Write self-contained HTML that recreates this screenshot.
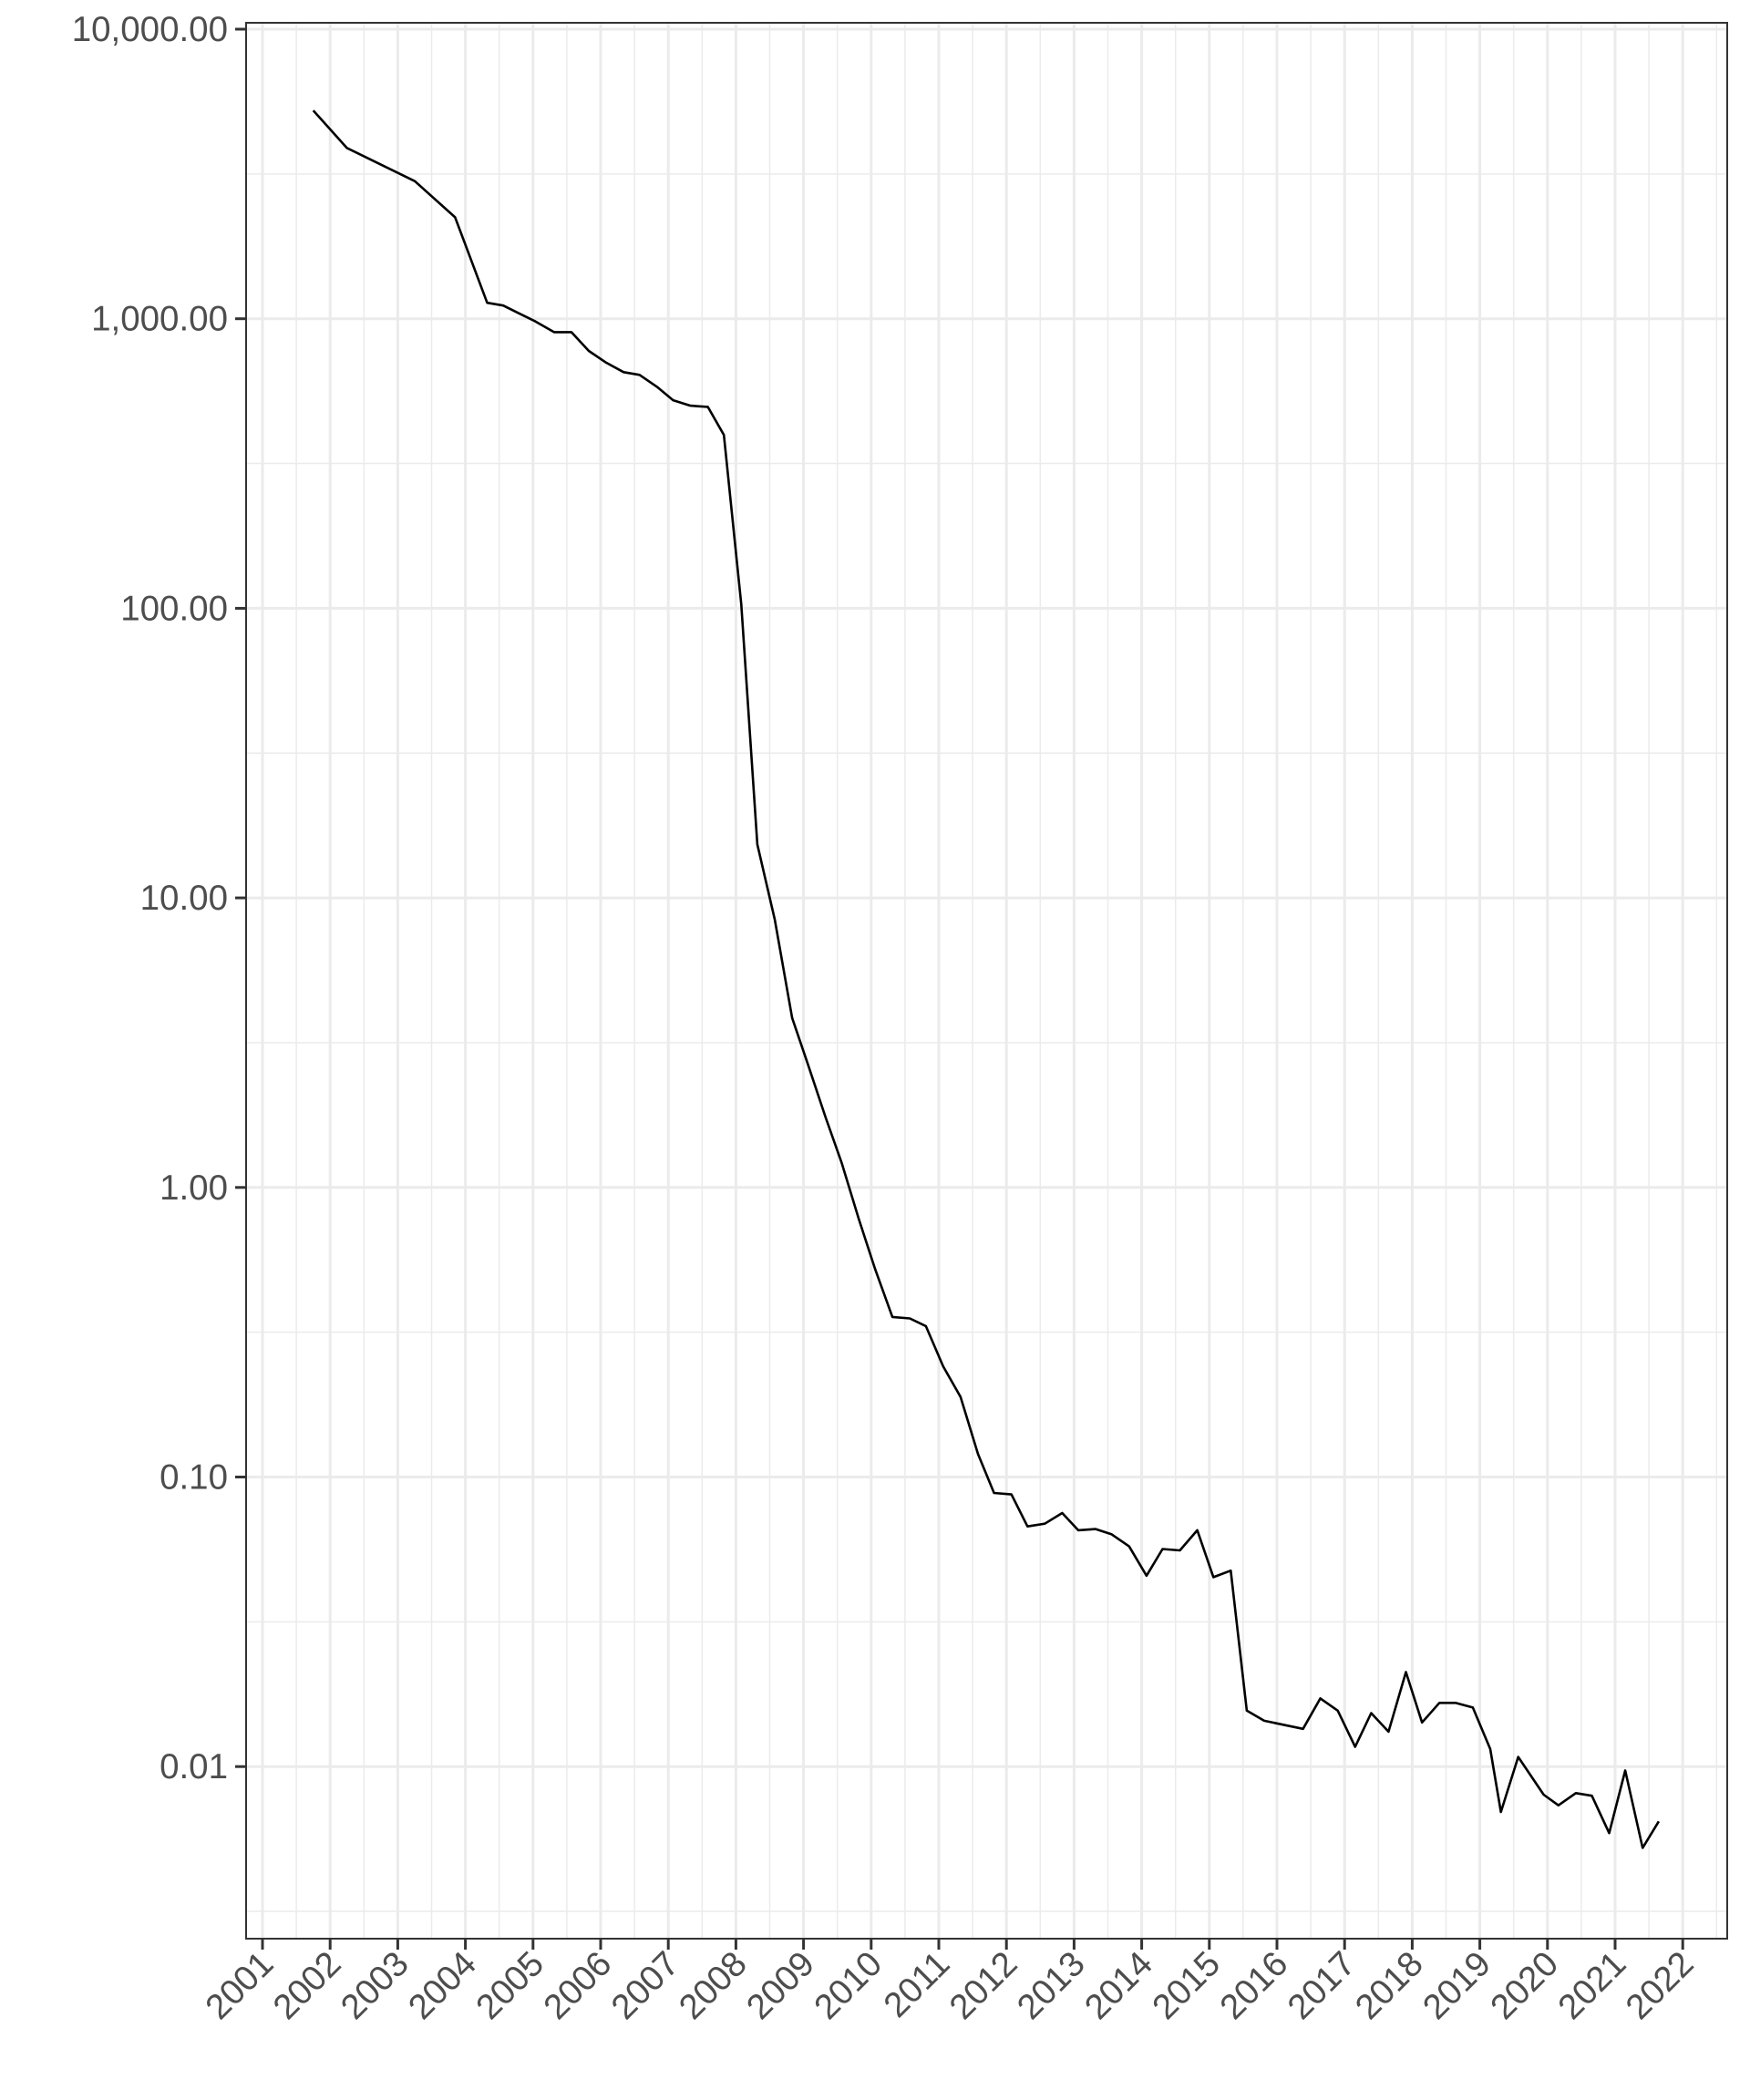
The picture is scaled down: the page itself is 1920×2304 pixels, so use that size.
<!DOCTYPE html>
<html><head><meta charset="utf-8"><style>
html,body{margin:0;padding:0;background:#fff;}
svg{display:block;font-family:"Liberation Sans",sans-serif;}
</style></head><body>
<svg id="chart" width="1920" height="2304" viewBox="0 0 1920 2304" xmlns="http://www.w3.org/2000/svg">
<rect width="1920" height="2304" fill="#fff"/>
<g id="grid"></g>
<g id="series"></g>
<rect x="270" y="25" width="1625" height="2102" fill="none" stroke="#333" stroke-width="2"/>
<g id="axes"></g>
</svg>
<script>
const years = [2001.751,2002.246,2003.254,2003.848,2004.322,2004.559,2004.797,2005.034,2005.311,2005.568,2005.825,2006.082,2006.339,2006.576,2006.833,2007.071,2007.328,2007.585,2007.822,2008.079,2008.317,2008.574,2008.831,2009.068,2009.325,2009.562,2009.819,2010.057,2010.314,2010.571,2010.808,2011.065,2011.322,2011.579,2011.817,2012.074,2012.311,2012.568,2012.825,2013.062,2013.320,2013.557,2013.814,2014.071,2014.308,2014.565,2014.822,2015.060,2015.317,2015.554,2015.811,2016.385,2016.642,2016.899,2017.156,2017.393,2017.650,2017.907,2018.145,2018.402,2018.639,2018.896,2019.153,2019.311,2019.568,2019.944,2020.162,2020.419,2020.656,2020.913,2021.150,2021.407,2021.645];
const values = [5240,3890,2985,2240,1135,1111,1043,979,899,899,774,705,654,640,582,523,501,496,397,103,15.3,8.43,3.85,2.65,1.75,1.22,0.775,0.524,0.357,0.353,0.332,0.241,0.189,0.120,0.0881,0.0871,0.0675,0.0690,0.0751,0.0655,0.0661,0.0634,0.0576,0.0456,0.0564,0.0558,0.0655,0.0451,0.0475,0.0156,0.0144,0.0135,0.0172,0.0156,0.0117,0.0153,0.0132,0.0212,0.0142,0.0166,0.0166,0.0160,0.0115,0.00697,0.0108,0.0080,0.00735,0.0081,0.00793,0.00589,0.00969,0.00524,0.00647];
const yTickValues = [10000,1000,100,10,1,0.1,0.01];
const yTickLabels = ["10,000.00","1,000.00","100.00","10.00","1.00","0.10","0.01"];
const xTickYears = [2001,2002,2003,2004,2005,2006,2007,2008,2009,2010,2011,2012,2013,2014,2015,2016,2017,2018,2019,2020,2021,2022];

const NS="http://www.w3.org/2000/svg";
const L=270,R=1895,T=25,B=2127;
function xs(yr){return 288+(yr-2001)*74.2;}
function ys(v){return 32+(4-Math.log10(v))*317.7;}
function mk(tag,attrs,parent){const e=document.createElementNS(NS,tag);for(const k in attrs)e.setAttribute(k,attrs[k]);parent.appendChild(e);return e;}
const grid=document.getElementById('grid'),axes=document.getElementById('axes'),series=document.getElementById('series');
for(let i=0;i<xTickYears.length;i++){const x=xs(xTickYears[i]+0.5);if(x<R){const l=mk('line',{x1:x,x2:x,y1:T,y2:B,stroke:'#ebebeb','stroke-width':1.5},grid);}}
const minorY=[Math.pow(10,4.5),Math.pow(10,3.5),Math.pow(10,2.5),Math.pow(10,1.5),Math.pow(10,0.5),Math.pow(10,-0.5),Math.pow(10,-1.5),Math.pow(10,-2.5)];
for(const v of minorY){const y=ys(v);if(y>T&&y<B){const l=mk('line',{x1:L,x2:R,y1:y,y2:y,stroke:'#ebebeb','stroke-width':1.5},grid);}}
for(let i=0;i<yTickValues.length;i++){const y=ys(yTickValues[i]);
 const g=mk('line',{x1:L,x2:R,y1:y,y2:y,stroke:'#ebebeb','stroke-width':3},grid);
 const t=mk('line',{x1:L-12,x2:L,y1:y,y2:y,stroke:'#333','stroke-width':3},axes);
 const tx=mk('text',{x:L-20,y:y+13,'text-anchor':'end','font-size':38.5,fill:'#4d4d4d'},axes);tx.textContent=yTickLabels[i];}
for(let i=0;i<xTickYears.length;i++){const x=xs(xTickYears[i]);
 const g=mk('line',{x1:x,x2:x,y1:T,y2:B,stroke:'#ebebeb','stroke-width':3},grid);
 const t=mk('line',{x1:x,x2:x,y1:B,y2:B+12,stroke:'#333','stroke-width':3},axes);
 const tx=mk('text',{x:x+14,y:B+30,'text-anchor':'end','font-size':38.5,fill:'#4d4d4d',transform:'rotate(-45 '+(x+14)+' '+(B+30)+')'},axes);tx.textContent=String(xTickYears[i]);}
let d='';for(let i=0;i<years.length;i++){d+=(i?'L':'M')+xs(years[i]).toFixed(1)+','+ys(values[i]).toFixed(1);}
const p=mk('path',{d:d,fill:'none',stroke:'#000','stroke-width':2.6,'stroke-linejoin':'round'},series);


</script>
</body></html>
